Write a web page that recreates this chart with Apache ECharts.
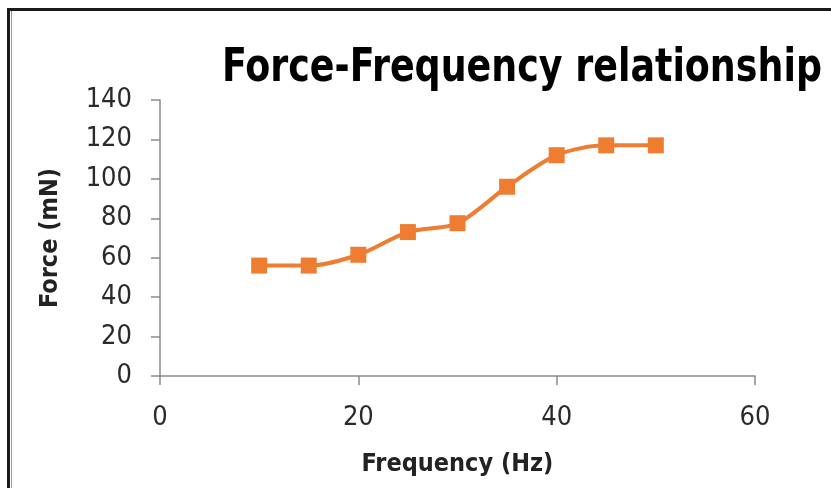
<!DOCTYPE html>
<html>
<head>
<meta charset="utf-8">
<script src="https://cdn.jsdelivr.net/npm/echarts@6/dist/echarts.min.js"></script>
<style>
html,body{margin:0;padding:0;background:#fff;}
#c{width:831px;height:488px;}
</style>
</head>
<body>
<div id="c"></div>
<script>
const titleText = 'Force-Frequency relationship';
const xName = 'Frequency (Hz)';
const yName = 'Force (mN)';
const frequency = [10, 15, 20, 25, 30, 35, 40, 45, 50];
const force = [56, 56, 61.5, 73, 77.5, 96, 112, 117, 117];

const FONT = '"DejaVu Sans Condensed", "Liberation Sans Narrow", "Liberation Sans", sans-serif';
const chart = echarts.init(document.getElementById('c'), null, {renderer: 'canvas'});
chart.setOption({
  backgroundColor: '#fff',
  animation: false,
  graphic: [
    {type: 'rect', shape: {x: 8.5, y: 9.5, width: 900, height: 600},
     style: {fill: 'none', stroke: '#1a1a1a', lineWidth: 3}, silent: true},
    {type: 'line', shape: {x1: 11.5, y1: 11, x2: 11.5, y2: 488},
     style: {stroke: '#9a9a9a', lineWidth: 1}, silent: true},
    {type: 'text', x: 222, y: 69, scaleX: 0.88, silent: true,
     style: {text: titleText, fontFamily: FONT, fontWeight: 'bold', fontSize: 46,
             fill: '#000', textAlign: 'left', textVerticalAlign: 'middle'}}
  ],
  grid: {left: 160, right: 76, top: 100, bottom: 112, containLabel: false},
  xAxis: {
    type: 'value', min: 0, max: 60, interval: 20,
    name: xName, nameLocation: 'middle', nameGap: 76,
    nameTextStyle: {fontFamily: FONT, fontWeight: 'bold', fontSize: 25, color: '#222'},
    axisLine: {show: true, lineStyle: {color: '#8a8a8a', width: 1.5}},
    axisTick: {show: true, length: 9, lineStyle: {color: '#8a8a8a', width: 1.5}},
    axisLabel: {fontFamily: FONT, fontSize: 27, color: '#2a2a2a', margin: 28},
    splitLine: {show: false}
  },
  yAxis: {
    type: 'value', min: 0, max: 140, interval: 20,
    name: yName, nameLocation: 'middle', nameGap: 97, nameRotate: 90,
    nameTextStyle: {fontFamily: FONT, fontWeight: 'bold', fontSize: 25, color: '#222'},
    axisLine: {show: true, lineStyle: {color: '#8a8a8a', width: 1.5}},
    axisTick: {show: true, length: 9, lineStyle: {color: '#8a8a8a', width: 1.5}},
    axisLabel: {fontFamily: FONT, fontSize: 27, color: '#2a2a2a', margin: 28},
    splitLine: {show: false}
  },
  series: [{
    type: 'line',
    data: frequency.map((f, i) => [f, force[i]]),
    smooth: 0.3,
    symbol: 'rect',
    symbolSize: 16,
    lineStyle: {color: '#EE7D31', width: 4},
    itemStyle: {color: '#EE7D31'}
  }]
});
</script>
</body>
</html>
